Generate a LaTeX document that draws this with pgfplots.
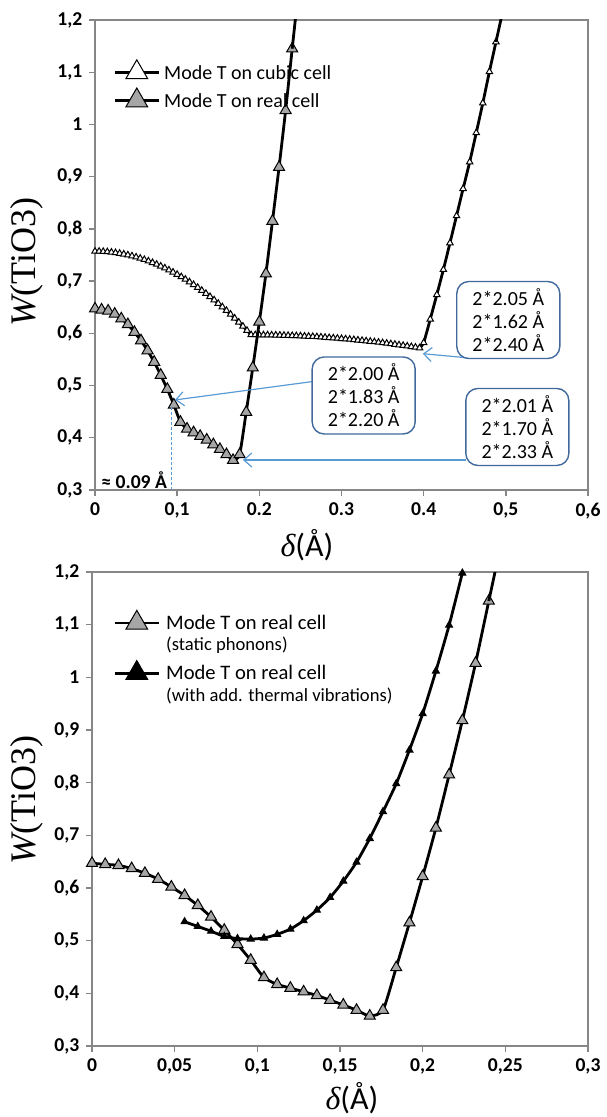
\documentclass[border=0pt]{standalone}
\usepackage{fontspec}
\setmainfont{Carlito}
\newfontfamily\tnr{Liberation Serif}
\usepackage{pgfplots}
\usepackage{pgfplotstable}
\pgfplotsset{compat=1.18}
\usetikzlibrary{arrows.meta}
\definecolor{frame}{RGB}{134,134,134}
\definecolor{markgray}{RGB}{166,166,166}
\definecolor{callout}{RGB}{65,105,155}
\definecolor{arrowblue}{RGB}{91,155,213}

% mode T on cubic cell
\pgfplotstableread{
d w
0 0.757
0.005 0.757
0.010 0.7566
0.015 0.756
0.020 0.7552
0.025 0.7542
0.030 0.753
0.035 0.7516
0.040 0.7499
0.045 0.748
0.050 0.7459
0.055 0.7436
0.060 0.7411
0.065 0.7383
0.070 0.7353
0.075 0.7321
0.080 0.7286
0.085 0.725
0.090 0.7211
0.095 0.717
0.100 0.7127
0.105 0.7082
0.110 0.7034
0.115 0.6984
0.120 0.6932
0.125 0.6878
0.130 0.6821
0.135 0.6763
0.140 0.6702
0.145 0.6639
0.150 0.6573
0.155 0.6506
0.160 0.6436
0.165 0.6364
0.170 0.629
0.175 0.6213
0.180 0.6135
0.185 0.6054
0.190 0.5971
0.195 0.597
0.200 0.5969
0.205 0.5969
0.210 0.5968
0.215 0.5966
0.220 0.5965
0.225 0.5963
0.230 0.596
0.235 0.5958
0.240 0.5955
0.245 0.5952
0.250 0.5949
0.255 0.5945
0.260 0.5941
0.265 0.5937
0.270 0.5932
0.275 0.5927
0.280 0.5922
0.285 0.5916
0.290 0.591
0.295 0.5904
0.300 0.5898
0.305 0.5891
0.310 0.5884
0.315 0.5877
0.320 0.5869
0.325 0.5862
0.330 0.5853
0.335 0.5845
0.340 0.5836
0.345 0.5827
0.350 0.5818
0.355 0.5808
0.360 0.5798
0.365 0.5788
0.370 0.5777
0.375 0.5766
0.380 0.5755
0.385 0.5744
0.390 0.5732
0.395 0.572
0.400 0.582
0.408 0.627
0.416 0.674
0.424 0.722
0.432 0.773
0.440 0.825
0.448 0.877
0.456 0.928
0.464 0.984
0.472 1.041
0.480 1.101
0.488 1.158
}\cubic

% mode T on real cell (static phonons)
\pgfplotstableread{
d w
0 0.647
0.008 0.645
0.016 0.643
0.024 0.637
0.032 0.628
0.040 0.617
0.048 0.602
0.056 0.586
0.064 0.567
0.072 0.545
0.080 0.520
0.088 0.493
0.096 0.463
0.104 0.430
0.112 0.417
0.120 0.410
0.128 0.403
0.136 0.396
0.144 0.387
0.152 0.378
0.160 0.368
0.168 0.357
0.176 0.368
0.184 0.449
0.192 0.534
0.200 0.622
0.208 0.714
0.216 0.815
0.224 0.918
0.232 1.027
0.240 1.145
}\real

% mode T on real cell (with thermal vibrations)
\pgfplotstableread{
d w
0.056 0.536
0.064 0.527
0.072 0.518
0.080 0.508
0.088 0.504
0.096 0.503
0.104 0.505
0.112 0.512
0.120 0.522
0.128 0.538
0.136 0.558
0.144 0.582
0.152 0.613
0.160 0.649
0.168 0.694
0.176 0.745
0.184 0.798
0.192 0.862
0.200 0.931
0.208 1.012
0.216 1.099
0.224 1.198
}\thermal

\pgfplotsset{
  excel/.style={
    scale only axis,
    axis line style={draw=frame, line width=0.7pt},
    major tick style={draw=frame, line width=0.7pt},
    tick align=outside,
    major tick length=2.8pt,
    xtick pos=bottom, ytick pos=left,
    ymin=0.3, ymax=1.2,
    ytick={0.3,0.4,0.5,0.6,0.7,0.8,0.9,1,1.1,1.2},
    yticklabels={{0,3},{0,4},{0,5},{0,6},{0,7},{0,8},{0,9},{1},{1,1},{1,2}},
    tick label style={font=\fontsize{9.8}{11}\selectfont\bfseries},
    ylabel={{\tnr\itshape W}{\tnr(TiO3)}},
    ylabel style={font=\fontsize{18}{20}\selectfont, anchor=center},
    xlabel={{\tnr\itshape δ}(Å)},
    xlabel style={font=\fontsize{16}{18}\selectfont, anchor=center},
    clip mode=individual,
    legend cell align=left,
    legend image code/.code={
      \draw[mark repeat=2,mark phase=2,#1,yshift=3.3pt]
        plot coordinates {(0pt,0pt)(11pt,0pt)(22pt,0pt)};},
  },
  mline/.style={black, line width=1.4pt, smooth, tension=0.35},
}

\begin{document}
\begin{tikzpicture}[
  box/.style={draw=callout, line width=0.7pt, rounded corners=6pt, fill=white,
    align=center, minimum width=51.5pt, minimum height=38.5pt, inner sep=1pt,
    font=\fontsize{10}{11.5}\selectfont},
  arr/.style={arrowblue, line width=0.6pt, -{Straight Barb[length=4pt,width=7pt]}}]

\begin{axis}[excel,
    width=246.5pt, height=235pt,
    xmin=0, xmax=0.6,
    xtick={0,0.1,0.2,0.3,0.4,0.5,0.6},
    xticklabels={{0},{0,1},{0.2},{0.3},{0.4},{0,5},{0,6}},
    xlabel style={at={(axis description cs:0.43,-0.117)}},
    ylabel style={at={(axis description cs:-0.138,0.485)}},
    legend style={draw=none, fill=none, inner sep=0pt,
      font=\fontsize{10}{12}\selectfont,
      nodes={inner xsep=2pt, inner ysep=2.5pt, text height=7pt, text depth=2pt},
      cells={anchor=base west},
      at={(axis cs:0.0219,1.1245)}, anchor=north west},
  ]
  \addplot[mline, mark=triangle*, mark size=1.85pt,
    mark options={fill=white, draw=black, line width=0.5pt, solid},
    legend image post style={mark size=6.3pt}] table[x=d, y=w] {\cubic};
  \addlegendentry{Mode T on cubic cell}
  \addplot[mline, mark=triangle*, mark size=3.2pt,
    mark options={fill=markgray, draw=black, line width=0.5pt, solid},
    legend image post style={mark size=6.3pt}] table[x=d, y=w] {\real};
  \addlegendentry{Mode T on real cell}
  \addplot[mline, forget plot] coordinates {(0.488,1.158) (0.496,1.215)};
  \addplot[mline, forget plot] coordinates {(0.240,1.145) (0.248,1.262)};

  \draw[arrowblue, line width=0.6pt, dash pattern=on 1.5pt off 1pt]
    (axis cs:0.0933,0.3) -- (axis cs:0.0933,0.46);
  \node[anchor=east, font=\fontsize{9.8}{11}\selectfont\bfseries, inner sep=1pt]
    at (axis cs:0.0905,0.319) {≈ 0.09 Å};
  \draw[arr] (axis cs:0.454,0.553) -- (axis cs:0.399,0.561);
  \draw[arr] (axis cs:0.264,0.5075) -- (axis cs:0.0973,0.4724);
  \draw[arr] (axis cs:0.4513,0.3575) -- (axis cs:0.180,0.3575);
  \node[box] at (axis cs:0.503,0.6255) {2*2.05 Å\\2*1.62 Å\\2*2.40 Å};
  \node[box] at (axis cs:0.327,0.481) {2*2.00 Å\\2*1.83 Å\\2*2.20 Å};
  \node[box] at (axis cs:0.514,0.4207) {2*2.01 Å\\2*1.70 Å\\2*2.33 Å};
\end{axis}

\begin{axis}[excel, at={(-1.5pt,-278pt)}, anchor=south west,
    width=248pt, height=237pt,
    xmin=0, xmax=0.3,
    xtick={0,0.05,0.1,0.15,0.2,0.25,0.3},
    xticklabels={{0},{0,05},{0,1},{0,15},{0,2},{0,25},{0,3}},
    xlabel style={at={(axis description cs:0.524,-0.11)}},
    ylabel style={at={(axis description cs:-0.131,0.519)}},
    legend style={draw=none, fill=none, inner sep=0pt, row sep=13.5pt,
      font=\fontsize{10.3}{12.4}\selectfont,
      nodes={inner xsep=3pt, inner ysep=0.5pt},
      cells={anchor=base west},
      at={(axis cs:0.0127,1.128)}, anchor=north west},
  ]
  \addplot[mline, mark=triangle*, mark size=3.2pt,
    mark options={fill=markgray, draw=black, line width=0.5pt, solid},
    legend image post style={mark size=6.3pt}] table[x=d, y=w] {\real};
  \addlegendentry{\begin{tabular}[t]{@{}l@{}}Mode T on real cell\\[-1.7pt]\fontsize{9.3}{11}\selectfont (static phonons)\end{tabular}}
  \addplot[mline, mark=triangle*, mark size=2pt,
    mark options={fill=black, draw=black, line width=0.5pt, solid},
    legend image post style={mark size=6.3pt}] table[x=d, y=w] {\thermal};
  \addlegendentry{\begin{tabular}[t]{@{}l@{}}Mode T on real cell\\[-1.7pt]\fontsize{9.3}{11}\selectfont (with add. thermal vibrations)\end{tabular}}
  \addplot[mline, forget plot] coordinates {(0.240,1.145) (0.248,1.262)};
\end{axis}

\pgfresetboundingbox
\path[use as bounding box] (-47.5pt,-313.5pt) rectangle (255.5pt,245pt);
\end{tikzpicture}
\end{document}
